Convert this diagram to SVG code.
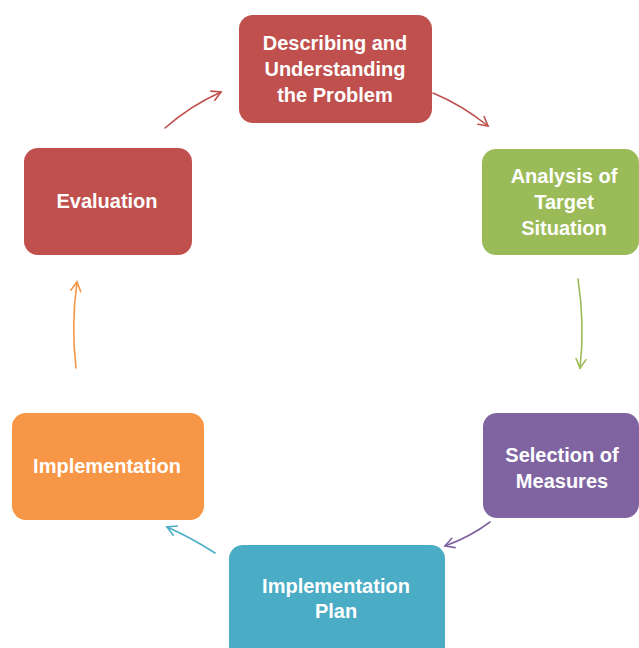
<svg xmlns="http://www.w3.org/2000/svg" width="639" height="648" viewBox="0 0 639 648">
<style>
.t{font-family:"Liberation Sans",Arial,sans-serif;font-weight:bold;font-size:20px;fill:#fff;text-anchor:middle}
.c{fill:none;stroke-width:1.6;stroke-linecap:round}
</style>
<defs>
<marker id="mr" viewBox="0 0 12 12" refX="10" refY="6" markerWidth="12" markerHeight="12" markerUnits="userSpaceOnUse" orient="auto"><path d="M1,1 L10,6 L1,11" fill="none" stroke="#C0504D" stroke-width="1.6" stroke-linecap="round"/></marker>
<marker id="mg" viewBox="0 0 12 12" refX="10" refY="6" markerWidth="12" markerHeight="12" markerUnits="userSpaceOnUse" orient="auto"><path d="M1,1 L10,6 L1,11" fill="none" stroke="#9BBB59" stroke-width="1.6" stroke-linecap="round"/></marker>
<marker id="mp" viewBox="0 0 12 12" refX="10" refY="6" markerWidth="12" markerHeight="12" markerUnits="userSpaceOnUse" orient="auto"><path d="M1,1 L10,6 L1,11" fill="none" stroke="#8064A2" stroke-width="1.6" stroke-linecap="round"/></marker>
<marker id="mb" viewBox="0 0 12 12" refX="10" refY="6" markerWidth="12" markerHeight="12" markerUnits="userSpaceOnUse" orient="auto"><path d="M1,1 L10,6 L1,11" fill="none" stroke="#4BACC6" stroke-width="1.6" stroke-linecap="round"/></marker>
<marker id="mo" viewBox="0 0 12 12" refX="10" refY="6" markerWidth="12" markerHeight="12" markerUnits="userSpaceOnUse" orient="auto"><path d="M1,1 L10,6 L1,11" fill="none" stroke="#F79646" stroke-width="1.6" stroke-linecap="round"/></marker>
</defs>
<rect width="639" height="648" fill="#fff"/>
<g id="connectors">
<path class="c" stroke="#C0504D" d="M165,128 Q190,106 221,92" marker-end="url(#mr)"/>
<path class="c" stroke="#C0504D" d="M433,93 Q462,105 488,126" marker-end="url(#mr)"/>
<path class="c" stroke="#9BBB59" d="M578,279 Q585,325 580,368" marker-end="url(#mg)"/>
<path class="c" stroke="#8064A2" d="M490,522 Q470,537 445,546" marker-end="url(#mp)"/>
<path class="c" stroke="#4BACC6" d="M215,553 Q190,537 167,527" marker-end="url(#mb)"/>
<path class="c" stroke="#F79646" d="M76,368 Q71,325 77,282" marker-end="url(#mo)"/>
</g>
<g id="describing">
<rect x="239" y="15" width="193" height="108" rx="14" fill="#C0504D"/>
<text class="t" x="335" y="50">Describing and</text>
<text class="t" x="335" y="76">Understanding</text>
<text class="t" x="335" y="102">the Problem</text>
</g>
<g id="analysis">
<rect x="482" y="149" width="157" height="106" rx="14" fill="#9BBB59"/>
<text class="t" x="564" y="183">Analysis of</text>
<text class="t" x="564" y="209">Target</text>
<text class="t" x="564" y="235">Situation</text>
</g>
<g id="selection">
<rect x="483" y="413" width="156" height="105" rx="14" fill="#8064A2"/>
<text class="t" x="562" y="462">Selection of</text>
<text class="t" x="562" y="488">Measures</text>
</g>
<g id="plan">
<rect x="229" y="545" width="216" height="115" rx="14" fill="#4BACC6"/>
<text class="t" x="336" y="593">Implementation</text>
<text class="t" x="336" y="618">Plan</text>
</g>
<g id="implementation">
<rect x="12" y="413" width="192" height="107" rx="14" fill="#F79646"/>
<text class="t" x="107" y="473">Implementation</text>
</g>
<g id="evaluation">
<rect x="24" y="148" width="168" height="107" rx="14" fill="#C0504D"/>
<text class="t" x="107" y="208">Evaluation</text>
</g>
</svg>
